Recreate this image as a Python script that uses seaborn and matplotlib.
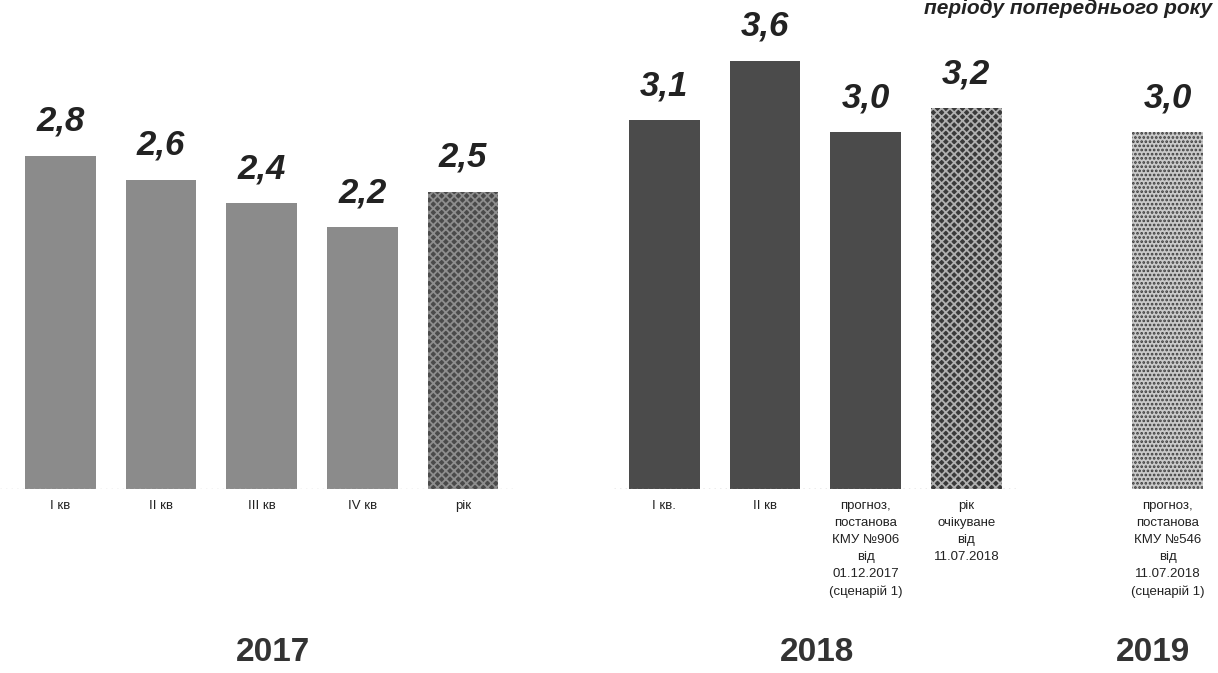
import pandas as pd
import numpy as np
import matplotlib.pyplot as plt
import matplotlib.transforms as mtransforms
import seaborn as sns

# values
keys_2017 = ["2017_q1", "2017_q2", "2017_q3", "2017_q4", "2017_y"]
labels_2017 = ["І кв", "ІІ кв", "ІІІ кв", "ІV кв", "рік"]
values_2017 = [2.8, 2.6, 2.4, 2.2, 2.5]

keys_2018 = ["2018_q1", "2018_q2", "2018_fc", "2018_y"]
labels_2018 = ["І кв.", "ІІ кв",
               "прогноз,\nпостанова\nКМУ №906\nвід\n01.12.2017\n(сценарій 1)",
               "рік\nочікуване\nвід\n11.07.2018"]
values_2018 = [3.1, 3.6, 3.0, 3.2]

keys_2019 = ["2019_fc"]
labels_2019 = ["прогноз,\nпостанова\nКМУ №546\nвід\n11.07.2018\n(сценарій 1)"]
values_2019 = [3.0]

years = ["2017", "2018", "2019"]
title_text = "періоду попереднього року"

# styles per bar: face, hatch, hatch colour
styles = {
    "2017_q1": ("#8b8b8b", "", "#8b8b8b"),
    "2017_q2": ("#8b8b8b", "", "#8b8b8b"),
    "2017_q3": ("#8b8b8b", "", "#8b8b8b"),
    "2017_q4": ("#8b8b8b", "", "#8b8b8b"),
    "2017_y": ("#4a4a4a", "xxxx", "#8e8e8e"),
    "2018_q1": ("#4b4b4b", "", "#4b4b4b"),
    "2018_q2": ("#4b4b4b", "", "#4b4b4b"),
    "2018_fc": ("#4b4b4b", "", "#4b4b4b"),
    "2018_y": ("#3a3a3a", "xxxx", "#b0b0b0"),
    "2019_fc": ("#cacaca", "....", "#3c3c3c"),
}

df = pd.DataFrame({
    "key": keys_2017 + keys_2018 + keys_2019,
    "label": labels_2017 + labels_2018 + labels_2019,
    "value": values_2017 + values_2018 + values_2019,
})

# empty slots between the year groups
order = keys_2017 + ["gap1"] + keys_2018 + ["gap2"] + keys_2019
tick_labels = labels_2017 + [""] + labels_2018 + [""] + labels_2019

sns.set_theme(style="white")
plt.rcParams["font.family"] = ["Liberation Sans", "DejaVu Sans"]
plt.rcParams["hatch.linewidth"] = 1.3

fig = plt.figure(figsize=(12.18, 6.73), dpi=100)
ax = fig.add_axes([0, 184 / 673, 1, 489 / 673])

sns.barplot(data=df, x="key", y="value", hue="key", order=order,
            hue_order=df["key"].tolist(), width=0.7, legend=False,
            ax=ax, saturation=1)

for key, cont in zip(df["key"], ax.containers):
    face, hatch, hcol = styles[key]
    for bar in cont:
        bar.set_facecolor(face)
        bar.set_hatch(hatch)
        bar.set_edgecolor(hcol)
        bar.set_linewidth(0)
    ax.bar_label(cont, labels=[("%.1f" % v).replace(".", ",") for v in cont.datavalues],
                 padding=13, fontsize=25, fontweight="bold", fontstyle="italic",
                 color="#222222")

ax.set_xlim(-0.6, 11.5)
ax.set_ylim(0, 4.11)
ax.set_xticks(range(len(order)))
ax.set_xticklabels(tick_labels, fontsize=9.5, color="#222222", linespacing=1.55)
ax.tick_params(axis="x", length=0, pad=8)
ax.set_yticks([])
ax.set_xlabel("")
ax.set_ylabel("")
for s in ax.spines.values():
    s.set_visible(False)

# faint dotted baselines under each group
ax.hlines(0, -0.6, 4.5, colors="#c8c8c8", linestyles=(0, (1, 3)), linewidth=1)
ax.hlines(0, 5.5, 9.5, colors="#9a9a9a", linestyles=(0, (1, 3)), linewidth=1)

# year labels under the groups
trans = mtransforms.blended_transform_factory(ax.transData, fig.transFigure)
for xpos, yr in zip([2.11, 7.52, 10.85], years):
    fig.text(xpos, 0.03, yr, transform=trans, ha="center", va="center",
             fontsize=24, fontweight="bold", color="#333333")

fig.text(0.995, 1 - 14 / 673, title_text, ha="right", va="baseline",
         fontsize=15, fontweight="bold", fontstyle="italic", color="#222222")

fig.savefig("out.png", dpi=100, facecolor="w")
